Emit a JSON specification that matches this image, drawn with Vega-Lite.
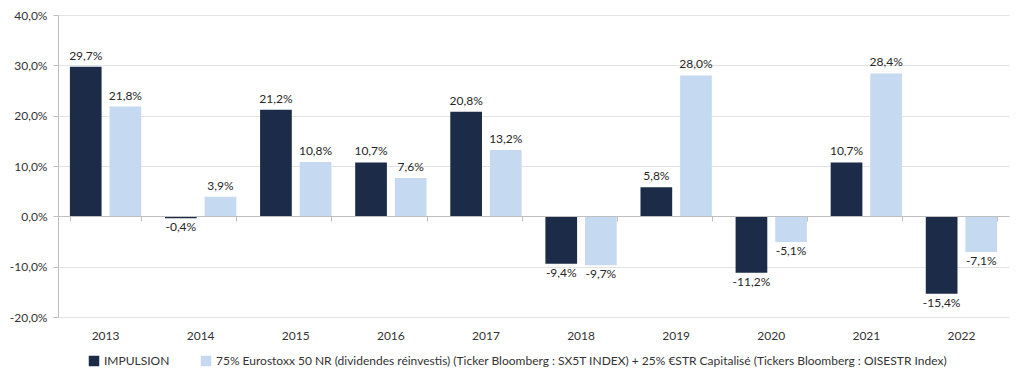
{
  "$schema": "https://vega.github.io/schema/vega-lite/v6.json",
  "width": 951,
  "height": 302,
  "autosize": {"type": "none"},
  "padding": {"left": 58, "top": 15, "right": 15, "bottom": 67},
  "config": {
    "locale": {"number": {"decimal": ",", "thousands": " ", "grouping": [3], "currency": ["", " €"], "minus": "-"}},
    "font": "Lato",
    "view": {"stroke": null},
    "axis": {"labelFont": "Lato", "labelFontSize": 12, "labelColor": "#333333", "domainColor": "#bfbfbf", "tickColor": "#bfbfbf", "gridColor": "#e3e3e3"},
    "legend": {"labelFont": "Lato", "labelFontSize": 12, "labelColor": "#333333"}
  },
  "data": {
    "values": [
      {"year": "2013", "series": "IMPULSION", "value": 0.297},
      {"year": "2013", "series": "BENCH", "value": 0.218},
      {"year": "2014", "series": "IMPULSION", "value": -0.004},
      {"year": "2014", "series": "BENCH", "value": 0.039},
      {"year": "2015", "series": "IMPULSION", "value": 0.212},
      {"year": "2015", "series": "BENCH", "value": 0.108},
      {"year": "2016", "series": "IMPULSION", "value": 0.107},
      {"year": "2016", "series": "BENCH", "value": 0.076},
      {"year": "2017", "series": "IMPULSION", "value": 0.208},
      {"year": "2017", "series": "BENCH", "value": 0.132},
      {"year": "2018", "series": "IMPULSION", "value": -0.094},
      {"year": "2018", "series": "BENCH", "value": -0.097},
      {"year": "2019", "series": "IMPULSION", "value": 0.058},
      {"year": "2019", "series": "BENCH", "value": 0.280},
      {"year": "2020", "series": "IMPULSION", "value": -0.112},
      {"year": "2020", "series": "BENCH", "value": -0.051},
      {"year": "2021", "series": "IMPULSION", "value": 0.107},
      {"year": "2021", "series": "BENCH", "value": 0.284},
      {"year": "2022", "series": "IMPULSION", "value": -0.154},
      {"year": "2022", "series": "BENCH", "value": -0.071}
    ]
  },
  "resolve": {"axis": {"x": "independent"}},
  "layer": [
    {
      "mark": {"type": "bar"},
      "encoding": {
        "x": {"field": "year", "type": "nominal", "scale": {"paddingInner": 0.25, "paddingOuter": 0.125},
              "axis": {"orient": "bottom", "title": null, "labelAngle": 0, "domain": false, "ticks": false, "labelPadding": 13, "grid": false}},
        "xOffset": {"field": "series", "type": "nominal", "sort": ["IMPULSION", "BENCH"], "scale": {"paddingInner": 0.2}},
        "y": {"field": "value", "type": "quantitative", "scale": {"domain": [-0.2, 0.4], "nice": false},
              "axis": {"title": null, "format": ".1%", "values": [-0.2, -0.1, 0, 0.1, 0.2, 0.3, 0.4], "labelOverlap": false, "tickSize": 5, "labelPadding": 6, "domain": true}},
        "color": {"field": "series", "type": "nominal", "sort": ["IMPULSION", "BENCH"],
                  "scale": {"domain": ["IMPULSION", "BENCH"], "range": ["#1b2b48", "#c5daf1"]},
                  "legend": {"orient": "none", "legendX": 30, "legendY": 340, "direction": "horizontal", "title": null, "symbolType": "square", "symbolSize": 110, "symbolStrokeWidth": 0, "labelLimit": 0, "columnPadding": 30,
                             "labelExpr": "datum.label == 'BENCH' ? '75% Eurostoxx 50 NR (dividendes réinvestis) (Ticker Bloomberg : SX5T INDEX) + 25% €STR Capitalisé (Tickers Bloomberg : OISESTR Index)' : datum.label"}}
      }
    },
    {
      "transform": [{"filter": "datum.value >= 0"}],
      "mark": {"type": "text", "baseline": "bottom", "dy": -4, "fontSize": 12, "color": "#262626"},
      "encoding": {
        "x": {"field": "year", "type": "nominal", "axis": null},
        "xOffset": {"field": "series", "type": "nominal", "sort": ["IMPULSION", "BENCH"]},
        "y": {"field": "value", "type": "quantitative"},
        "text": {"field": "value", "type": "quantitative", "format": ".1%"}
      }
    },
    {
      "transform": [{"filter": "datum.value < 0"}],
      "mark": {"type": "text", "baseline": "top", "dy": 4, "fontSize": 12, "color": "#262626"},
      "encoding": {
        "x": {"field": "year", "type": "nominal", "axis": null},
        "xOffset": {"field": "series", "type": "nominal", "sort": ["IMPULSION", "BENCH"]},
        "y": {"field": "value", "type": "quantitative"},
        "text": {"field": "value", "type": "quantitative", "format": ".1%"}
      }
    },
    {
      "mark": {"type": "tick", "opacity": 0},
      "encoding": {
        "x": {"field": "year", "type": "nominal",
              "axis": {"orient": "bottom", "title": null, "labels": false, "domain": true, "ticks": true, "tickBand": "extent", "tickSize": 5, "offset": -101, "grid": false, "zindex": 1}}
      }
    }
  ]
}
